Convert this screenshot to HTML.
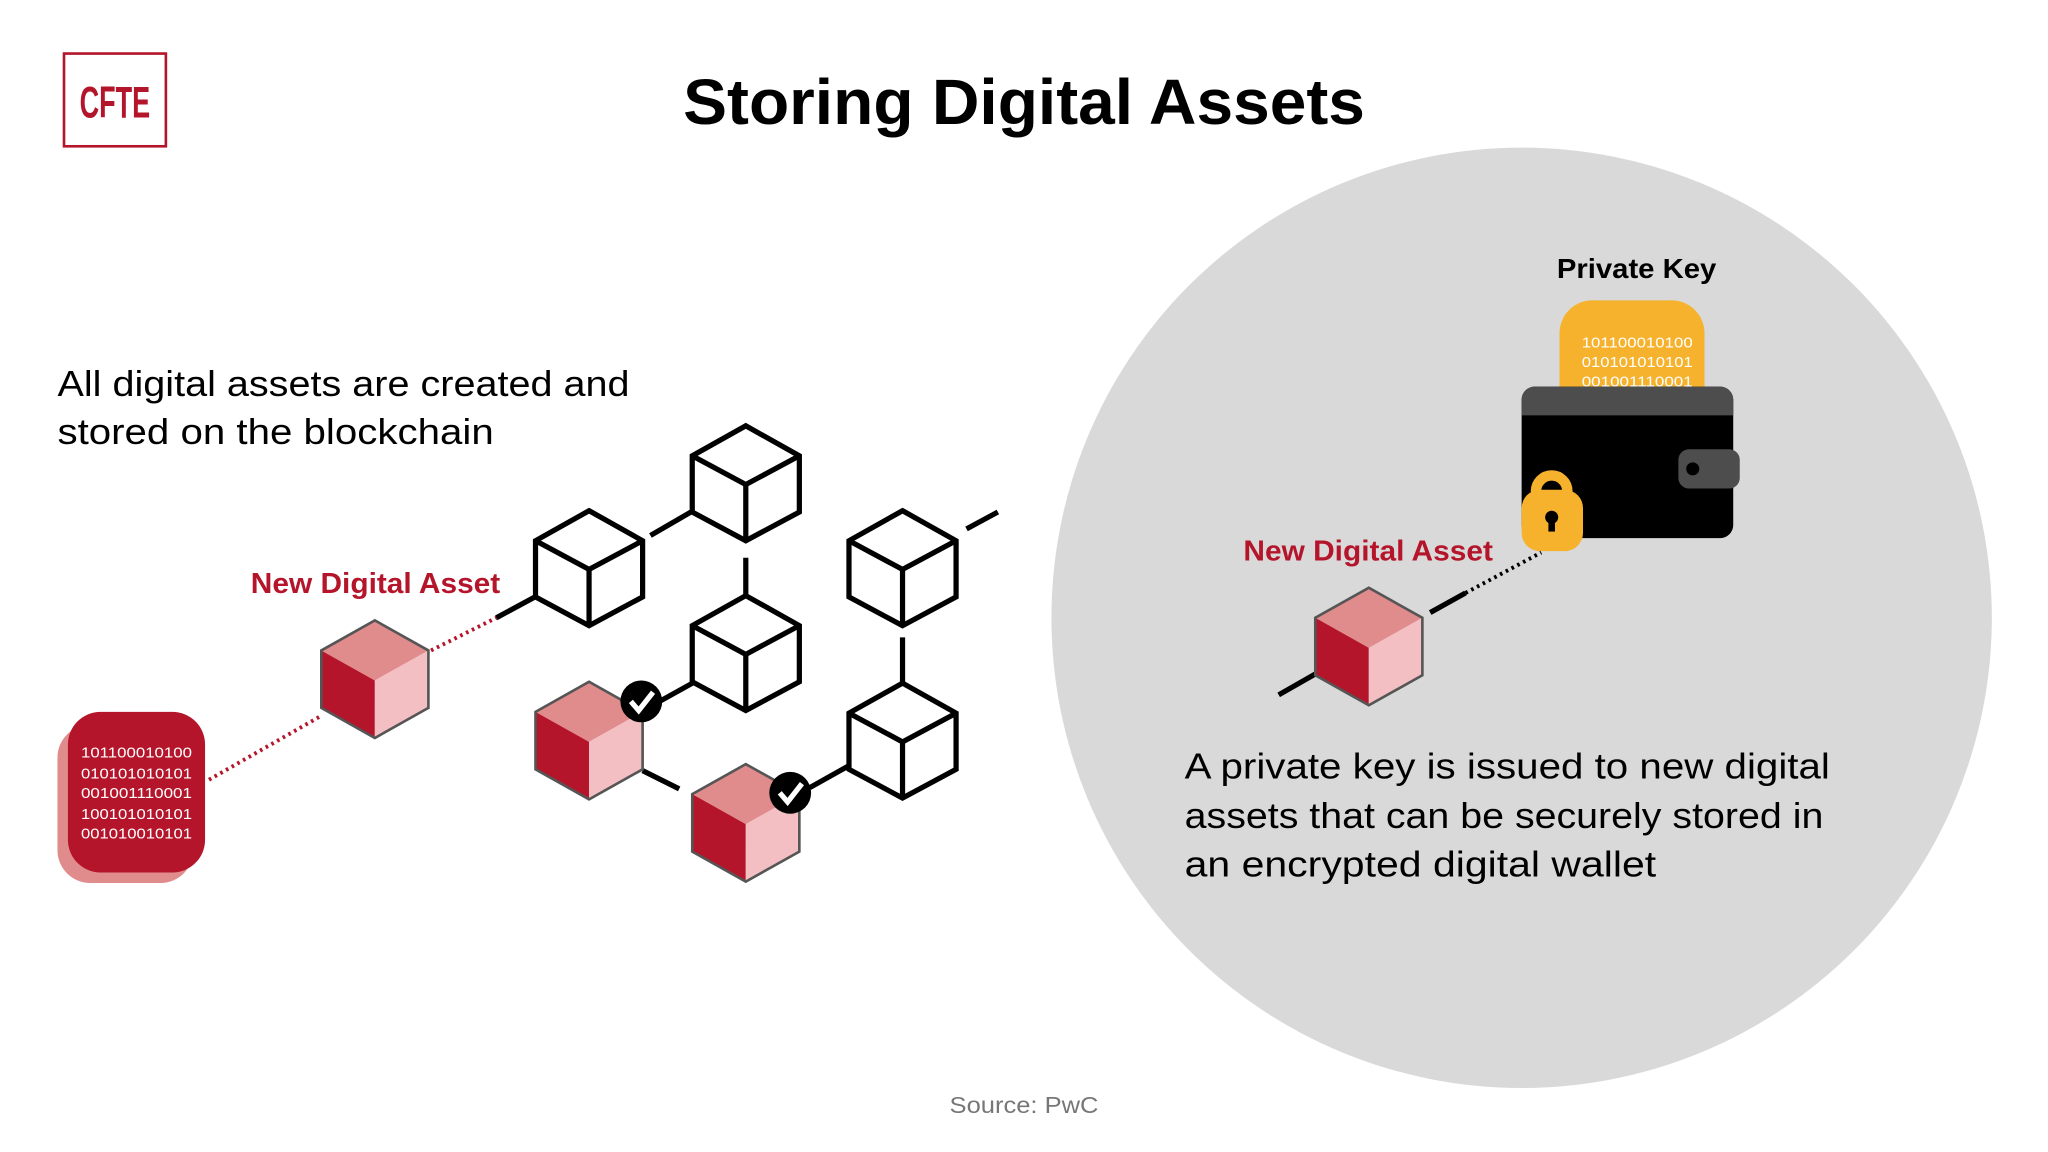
<!DOCTYPE html>
<html><head><meta charset="utf-8"><style>
html,body{margin:0;padding:0;background:#fff;}
svg{display:block;}
text{font-family:"Liberation Sans",sans-serif;}
</style></head><body>
<svg width="2048" height="1152" viewBox="0 0 1568 882" preserveAspectRatio="none" xmlns="http://www.w3.org/2000/svg">
<defs>
<g id="oc">
<polygon points="0,-44 41,-21 41,22 0,44 -41,22 -41,-21" fill="#fff" stroke="#000" stroke-width="4" stroke-linejoin="miter"/>
<polyline points="-41,-21 0,1 41,-21" fill="none" stroke="#000" stroke-width="4"/>
<line x1="0" y1="1" x2="0" y2="44" stroke="#000" stroke-width="4"/>
</g>
<g id="rc">
<polygon points="0,-45 41,-22 0,1 -41,-22" fill="#e08b8c"/>
<polygon points="-41,-22 0,1 0,45 -41,22" fill="#b5152b"/>
<polygon points="41,-22 0,1 0,45 41,22" fill="#f3bfc3"/>
<polygon points="0,-45 41,-22 41,22 0,45 -41,22 -41,-22" fill="none" stroke="#555" stroke-width="2"/>
</g>
<g id="ck">
<circle r="16" fill="#000"/>
<polyline points="-8,0 -2,7 9,-7" fill="none" stroke="#fff" stroke-width="4"/>
</g>
</defs>
<rect width="1568" height="882" fill="#fff"/>
<circle cx="1165" cy="473" r="360" fill="#d9d9d9"/>
<rect x="49" y="41" width="78" height="71" fill="none" stroke="#b5152b" stroke-width="2"/>
<text x="88" y="90" text-anchor="middle" font-size="34" font-weight="bold" fill="#b5152b" textLength="54" lengthAdjust="spacingAndGlyphs">CFTE</text>
<text x="523" y="95" font-size="49" font-weight="bold" fill="#000" textLength="522" lengthAdjust="spacingAndGlyphs">Storing Digital Assets</text>
<text x="44" y="303" font-size="28" fill="#000" textLength="438" lengthAdjust="spacingAndGlyphs">All digital assets are created and</text>
<text x="44" y="340" font-size="28" fill="#000" textLength="334" lengthAdjust="spacingAndGlyphs">stored on the blockchain</text>
<text x="192" y="454" font-size="22" font-weight="bold" fill="#b5152b" textLength="191" lengthAdjust="spacingAndGlyphs">New Digital Asset</text>
<g stroke="#000" stroke-width="4" stroke-linecap="butt">
<line x1="380" y1="473" x2="430" y2="446"/>
<line x1="498" y1="410" x2="548" y2="381"/>
<line x1="571" y1="427" x2="571" y2="483"/>
<line x1="505" y1="537" x2="550" y2="512"/>
<line x1="492" y1="590" x2="520" y2="604"/>
<line x1="620" y1="603" x2="670" y2="575"/>
<line x1="691" y1="488" x2="691" y2="545"/>
<line x1="740" y1="405" x2="764" y2="392"/>
</g>
<g stroke="#b5152b" stroke-width="3" stroke-dasharray="2,3">
<line x1="160" y1="597" x2="246" y2="548"/>
<line x1="330" y1="498" x2="380" y2="473"/>
</g>
<use href="#oc" x="451" y="435"/>
<use href="#oc" x="571" y="370"/>
<use href="#oc" x="571" y="500"/>
<use href="#oc" x="691" y="435"/>
<use href="#oc" x="691" y="567"/>
<use href="#rc" x="287" y="520"/>
<use href="#rc" x="451" y="567"/>
<use href="#rc" x="571" y="630"/>
<use href="#ck" x="491" y="537"/>
<use href="#ck" x="605" y="607"/>
<rect x="44" y="555" width="104" height="121" rx="25" fill="#e08b8c"/>
<rect x="52" y="545" width="105" height="123" rx="25" fill="#b5152b"/>
<g font-size="11.5" fill="#fff">
<text x="62" y="580" textLength="85" lengthAdjust="spacingAndGlyphs">101100010100</text>
<text x="62" y="596" textLength="85" lengthAdjust="spacingAndGlyphs">010101010101</text>
<text x="62" y="611" textLength="85" lengthAdjust="spacingAndGlyphs">001001110001</text>
<text x="62" y="627" textLength="85" lengthAdjust="spacingAndGlyphs">100101010101</text>
<text x="62" y="642" textLength="85" lengthAdjust="spacingAndGlyphs">001010010101</text>
</g>
<text x="1192" y="213" font-size="21" font-weight="bold" fill="#000" textLength="122" lengthAdjust="spacingAndGlyphs">Private Key</text>
<rect x="1194" y="230" width="111" height="90" rx="25" fill="#f6b22d"/>
<g font-size="11.5" fill="#fff">
<text x="1211" y="266" textLength="85" lengthAdjust="spacingAndGlyphs">101100010100</text>
<text x="1211" y="281" textLength="85" lengthAdjust="spacingAndGlyphs">010101010101</text>
<text x="1211" y="296" textLength="85" lengthAdjust="spacingAndGlyphs">001001110001</text>
</g>
<rect x="1165" y="296" width="162" height="116" rx="10" fill="#000"/>
<path d="M1165,318 V306 a10,10 0 0 1 10,-10 H1317 a10,10 0 0 1 10,10 V318 Z" fill="#4d4d4d"/>
<rect x="1285" y="344" width="47" height="30" rx="8" fill="#4d4d4d"/>
<circle cx="1296" cy="359" r="5" fill="#000"/>
<path d="M1176,382 v-6 a12,12 0 0 1 24,0 v6" fill="none" stroke="#f6b22d" stroke-width="8"/>
<rect x="1165" y="375" width="47" height="47" rx="14" fill="#f6b22d"/>
<circle cx="1188" cy="396" r="5" fill="#000"/>
<rect x="1185.5" y="397" width="5" height="10" fill="#000"/>
<text x="952" y="429" font-size="22" font-weight="bold" fill="#b5152b" textLength="191" lengthAdjust="spacingAndGlyphs">New Digital Asset</text>
<g stroke="#000" stroke-width="4">
<line x1="979" y1="532" x2="1007" y2="516"/>
<line x1="1095" y1="469" x2="1122" y2="454"/>
</g>
<line x1="1122" y1="454" x2="1180" y2="423" stroke="#000" stroke-width="3" stroke-dasharray="2,3"/>
<use href="#rc" x="1048" y="495"/>
<text x="907" y="596" font-size="28" fill="#000" textLength="494" lengthAdjust="spacingAndGlyphs">A private key is issued to new digital</text>
<text x="907" y="634" font-size="28" fill="#000" textLength="489" lengthAdjust="spacingAndGlyphs">assets that can be securely stored in</text>
<text x="907" y="671" font-size="28" fill="#000" textLength="361" lengthAdjust="spacingAndGlyphs">an encrypted digital wallet</text>
<text x="727" y="852" font-size="18" fill="#777" textLength="114" lengthAdjust="spacingAndGlyphs">Source:  PwC</text>
</svg>
</body></html>
